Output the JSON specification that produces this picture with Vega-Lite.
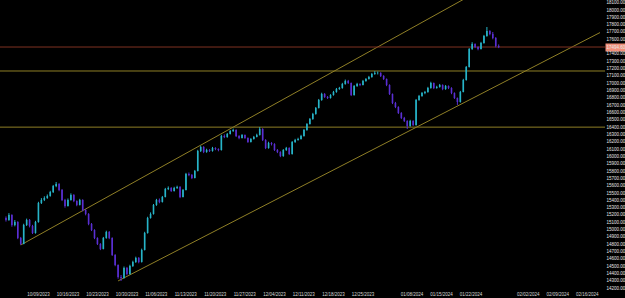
{
  "$schema": "https://vega.github.io/schema/vega-lite/v6.json",
  "width": 605,
  "height": 290,
  "autosize": {"type": "none"},
  "padding": {"left": 0, "top": 0, "right": 20, "bottom": 8},
  "background": "#000000",
  "config": {
    "view": {"stroke": null},
    "axis": {"labelFont": "Liberation Sans", "labelFontSize": 4.5, "grid": false, "domain": false, "labelOverlap": false, "tickCount": 200}
  },
  "datasets": {
    "candles": [
      {"day":1.5,"o":15160,"h":15180,"l":15110,"c":15132},
      {"day":2,"o":15132,"h":15225,"l":15120,"c":15200},
      {"day":2.5,"o":15200,"h":15210,"l":15040,"c":15063},
      {"day":3,"o":15063,"h":15130,"l":15045,"c":15104},
      {"day":3.5,"o":15104,"h":15115,"l":14870,"c":14886},
      {"day":4,"o":14886,"h":14900,"l":14790,"c":14804},
      {"day":4.5,"o":14804,"h":15080,"l":14800,"c":15063},
      {"day":5,"o":15063,"h":15150,"l":15050,"c":15132},
      {"day":5.5,"o":15132,"h":15145,"l":15030,"c":15050},
      {"day":6,"o":15050,"h":15065,"l":14940,"c":14954},
      {"day":6.5,"o":14954,"h":15120,"l":14945,"c":15104},
      {"day":7,"o":15104,"h":15380,"l":15095,"c":15364},
      {"day":7.5,"o":15364,"h":15430,"l":15350,"c":15405},
      {"day":8,"o":15405,"h":15455,"l":15390,"c":15432},
      {"day":8.5,"o":15432,"h":15480,"l":15420,"c":15460},
      {"day":9,"o":15460,"h":15530,"l":15450,"c":15514},
      {"day":9.5,"o":15514,"h":15610,"l":15500,"c":15596},
      {"day":10,"o":15596,"h":15650,"l":15580,"c":15624},
      {"day":10.5,"o":15624,"h":15635,"l":15525,"c":15542},
      {"day":11,"o":15542,"h":15555,"l":15390,"c":15405},
      {"day":11.5,"o":15405,"h":15420,"l":15300,"c":15323},
      {"day":12,"o":15323,"h":15425,"l":15315,"c":15405},
      {"day":12.5,"o":15405,"h":15495,"l":15395,"c":15473},
      {"day":13,"o":15473,"h":15485,"l":15375,"c":15391},
      {"day":13.5,"o":15391,"h":15400,"l":15320,"c":15337},
      {"day":14,"o":15337,"h":15420,"l":15330,"c":15405},
      {"day":14.5,"o":15405,"h":15415,"l":15250,"c":15268},
      {"day":15,"o":15268,"h":15280,"l":15195,"c":15214},
      {"day":15.5,"o":15214,"h":15225,"l":15060,"c":15077},
      {"day":16,"o":15077,"h":15090,"l":14980,"c":14995},
      {"day":16.5,"o":14995,"h":15005,"l":14870,"c":14886},
      {"day":17,"o":14886,"h":14895,"l":14790,"c":14804},
      {"day":17.5,"o":14804,"h":14815,"l":14720,"c":14736},
      {"day":18,"o":14736,"h":14900,"l":14730,"c":14886},
      {"day":18.5,"o":14886,"h":14985,"l":14875,"c":14968},
      {"day":19,"o":14968,"h":14980,"l":14870,"c":14886},
      {"day":19.5,"o":14886,"h":14895,"l":14640,"c":14654},
      {"day":20,"o":14654,"h":14665,"l":14500,"c":14517},
      {"day":20.5,"o":14517,"h":14525,"l":14330,"c":14353},
      {"day":21,"o":14353,"h":14380,"l":14299,"c":14340},
      {"day":21.5,"o":14340,"h":14495,"l":14330,"c":14476},
      {"day":22,"o":14476,"h":14490,"l":14375,"c":14394},
      {"day":22.5,"o":14394,"h":14520,"l":14385,"c":14503},
      {"day":23,"o":14503,"h":14575,"l":14490,"c":14558},
      {"day":23.5,"o":14558,"h":14630,"l":14545,"c":14613},
      {"day":24,"o":14613,"h":14625,"l":14540,"c":14558},
      {"day":24.5,"o":14558,"h":14740,"l":14550,"c":14722},
      {"day":25,"o":14722,"h":14970,"l":14715,"c":14954},
      {"day":25.5,"o":14954,"h":15175,"l":14945,"c":15159},
      {"day":26,"o":15159,"h":15235,"l":15150,"c":15214},
      {"day":26.5,"o":15214,"h":15350,"l":15205,"c":15337},
      {"day":27,"o":15337,"h":15420,"l":15325,"c":15405},
      {"day":27.5,"o":15405,"h":15425,"l":15360,"c":15378},
      {"day":28,"o":15378,"h":15460,"l":15370,"c":15446},
      {"day":28.5,"o":15446,"h":15570,"l":15440,"c":15555},
      {"day":29,"o":15555,"h":15590,"l":15540,"c":15569},
      {"day":29.5,"o":15569,"h":15580,"l":15515,"c":15528},
      {"day":30,"o":15528,"h":15585,"l":15520,"c":15569},
      {"day":30.5,"o":15569,"h":15600,"l":15555,"c":15583},
      {"day":31,"o":15583,"h":15595,"l":15430,"c":15446},
      {"day":31.5,"o":15446,"h":15555,"l":15440,"c":15542},
      {"day":32,"o":15542,"h":15775,"l":15535,"c":15760},
      {"day":32.5,"o":15760,"h":15780,"l":15730,"c":15747},
      {"day":33,"o":15747,"h":15760,"l":15690,"c":15706},
      {"day":33.5,"o":15706,"h":15815,"l":15700,"c":15801},
      {"day":34,"o":15801,"h":16090,"l":15795,"c":16074},
      {"day":34.5,"o":16074,"h":16145,"l":16060,"c":16129},
      {"day":35,"o":16129,"h":16140,"l":16045,"c":16061},
      {"day":35.5,"o":16061,"h":16105,"l":16050,"c":16088},
      {"day":36,"o":16088,"h":16100,"l":16060,"c":16074},
      {"day":36.5,"o":16074,"h":16130,"l":16065,"c":16115},
      {"day":37,"o":16115,"h":16125,"l":16085,"c":16102},
      {"day":37.5,"o":16102,"h":16110,"l":16070,"c":16088},
      {"day":38,"o":16088,"h":16295,"l":16080,"c":16279},
      {"day":38.5,"o":16279,"h":16300,"l":16250,"c":16266},
      {"day":39,"o":16266,"h":16320,"l":16255,"c":16307},
      {"day":39.5,"o":16307,"h":16360,"l":16300,"c":16348},
      {"day":40,"o":16348,"h":16380,"l":16335,"c":16361},
      {"day":40.5,"o":16361,"h":16370,"l":16265,"c":16279},
      {"day":41,"o":16279,"h":16290,"l":16235,"c":16252},
      {"day":41.5,"o":16252,"h":16305,"l":16245,"c":16293},
      {"day":42,"o":16293,"h":16300,"l":16240,"c":16252},
      {"day":42.5,"o":16252,"h":16260,"l":16185,"c":16197},
      {"day":43,"o":16197,"h":16250,"l":16190,"c":16238},
      {"day":43.5,"o":16238,"h":16280,"l":16230,"c":16266},
      {"day":44,"o":16266,"h":16310,"l":16260,"c":16293},
      {"day":44.5,"o":16293,"h":16400,"l":16285,"c":16375},
      {"day":45,"o":16375,"h":16385,"l":16210,"c":16225},
      {"day":45.5,"o":16225,"h":16235,"l":16100,"c":16115},
      {"day":46,"o":16115,"h":16200,"l":16105,"c":16184},
      {"day":46.5,"o":16184,"h":16195,"l":16150,"c":16170},
      {"day":47,"o":16170,"h":16180,"l":16075,"c":16088},
      {"day":47.5,"o":16088,"h":16100,"l":16045,"c":16061},
      {"day":48,"o":16061,"h":16070,"l":15990,"c":16006},
      {"day":48.5,"o":16006,"h":16100,"l":15995,"c":16088},
      {"day":49,"o":16088,"h":16130,"l":16075,"c":16115},
      {"day":49.5,"o":16115,"h":16125,"l":16020,"c":16033},
      {"day":50,"o":16033,"h":16210,"l":16025,"c":16197},
      {"day":50.5,"o":16197,"h":16240,"l":16185,"c":16225},
      {"day":51,"o":16225,"h":16255,"l":16215,"c":16238},
      {"day":51.5,"o":16238,"h":16295,"l":16230,"c":16279},
      {"day":52,"o":16279,"h":16375,"l":16270,"c":16361},
      {"day":52.5,"o":16361,"h":16455,"l":16350,"c":16443},
      {"day":53,"o":16443,"h":16525,"l":16435,"c":16511},
      {"day":53.5,"o":16511,"h":16595,"l":16500,"c":16580},
      {"day":54,"o":16580,"h":16675,"l":16570,"c":16662},
      {"day":54.5,"o":16662,"h":16785,"l":16655,"c":16771},
      {"day":55,"o":16771,"h":16870,"l":16760,"c":16853},
      {"day":55.5,"o":16853,"h":16865,"l":16800,"c":16812},
      {"day":56,"o":16812,"h":16825,"l":16785,"c":16798},
      {"day":56.5,"o":16798,"h":16850,"l":16790,"c":16839},
      {"day":57,"o":16839,"h":16895,"l":16830,"c":16880},
      {"day":57.5,"o":16880,"h":16935,"l":16870,"c":16921},
      {"day":58,"o":16921,"h":16950,"l":16910,"c":16935},
      {"day":58.5,"o":16935,"h":17005,"l":16925,"c":16990},
      {"day":59,"o":16990,"h":17050,"l":16980,"c":17031},
      {"day":59.5,"o":17031,"h":17045,"l":16990,"c":17003},
      {"day":60,"o":17003,"h":17010,"l":16825,"c":16839},
      {"day":60.5,"o":16839,"h":16975,"l":16830,"c":16962},
      {"day":61,"o":16962,"h":17005,"l":16950,"c":16990},
      {"day":61.5,"o":16990,"h":17000,"l":16960,"c":16976},
      {"day":62,"o":16976,"h":17045,"l":16970,"c":17031},
      {"day":62.5,"o":17031,"h":17070,"l":17020,"c":17058},
      {"day":63,"o":17058,"h":17100,"l":17050,"c":17085},
      {"day":63.5,"o":17085,"h":17140,"l":17075,"c":17126},
      {"day":64,"o":17126,"h":17165,"l":17115,"c":17140},
      {"day":64.5,"o":17140,"h":17160,"l":17120,"c":17141},
      {"day":65,"o":17141,"h":17150,"l":17085,"c":17099},
      {"day":65.5,"o":17099,"h":17110,"l":17045,"c":17058},
      {"day":66,"o":17058,"h":17065,"l":16960,"c":16976},
      {"day":66.5,"o":16976,"h":16985,"l":16840,"c":16853},
      {"day":67,"o":16853,"h":16860,"l":16715,"c":16730},
      {"day":67.5,"o":16730,"h":16745,"l":16660,"c":16675},
      {"day":68,"o":16675,"h":16685,"l":16580,"c":16593},
      {"day":68.5,"o":16593,"h":16605,"l":16510,"c":16525},
      {"day":69,"o":16525,"h":16540,"l":16470,"c":16484},
      {"day":69.5,"o":16484,"h":16495,"l":16375,"c":16416},
      {"day":70,"o":16416,"h":16500,"l":16405,"c":16484},
      {"day":70.5,"o":16484,"h":16495,"l":16415,"c":16429},
      {"day":71,"o":16429,"h":16785,"l":16420,"c":16771},
      {"day":71.5,"o":16771,"h":16840,"l":16760,"c":16826},
      {"day":72,"o":16826,"h":16880,"l":16815,"c":16867},
      {"day":72.5,"o":16867,"h":16895,"l":16850,"c":16880},
      {"day":73,"o":16880,"h":16950,"l":16870,"c":16935},
      {"day":73.5,"o":16935,"h":17020,"l":16925,"c":17003},
      {"day":74,"o":17003,"h":17010,"l":16920,"c":16935},
      {"day":74.5,"o":16935,"h":16965,"l":16925,"c":16949},
      {"day":75,"o":16949,"h":16990,"l":16940,"c":16976},
      {"day":75.5,"o":16976,"h":16985,"l":16905,"c":16921},
      {"day":76,"o":16921,"h":16975,"l":16910,"c":16962},
      {"day":76.5,"o":16962,"h":16970,"l":16920,"c":16935},
      {"day":77,"o":16935,"h":16945,"l":16850,"c":16867},
      {"day":77.5,"o":16867,"h":16875,"l":16785,"c":16798},
      {"day":78,"o":16798,"h":16805,"l":16703,"c":16744},
      {"day":78.5,"o":16744,"h":16895,"l":16735,"c":16880},
      {"day":79,"o":16880,"h":17060,"l":16875,"c":17044},
      {"day":79.5,"o":17044,"h":17235,"l":17035,"c":17222},
      {"day":80,"o":17222,"h":17480,"l":17215,"c":17468},
      {"day":80.5,"o":17468,"h":17560,"l":17455,"c":17536},
      {"day":81,"o":17536,"h":17545,"l":17480,"c":17495},
      {"day":81.5,"o":17495,"h":17505,"l":17450,"c":17468},
      {"day":82,"o":17468,"h":17565,"l":17460,"c":17550},
      {"day":82.5,"o":17550,"h":17660,"l":17540,"c":17645},
      {"day":83,"o":17645,"h":17768,"l":17635,"c":17713},
      {"day":83.5,"o":17713,"h":17725,"l":17655,"c":17672},
      {"day":84,"o":17672,"h":17700,"l":17600,"c":17618},
      {"day":84.5,"o":17618,"h":17630,"l":17490,"c":17509},
      {"day":85,"o":17509,"h":17530,"l":17480,"c":17494}
    ],
    "channel": [
      {"line":"upper","day":4,"price":14790},
      {"line":"upper","day":80,"price":18189},
      {"line":"lower","day":20.5,"price":14299},
      {"line":"lower","day":102.1667,"price":17692}
    ],
    "levels": [
      {"price":17167},
      {"price":16400}
    ],
    "bid": [
      {"price":17494.6}
    ]
  },
  "layer": [
    {
      "data": {"name": "levels"},
      "mark": {"type": "rule", "color": "#8f7f26", "strokeWidth": 1},
      "encoding": {
        "y": {"field": "price", "type": "quantitative", "scale": {"domain": [14175, 18137], "nice": false, "zero": false}}
      }
    },
    {
      "data": {"name": "channel"},
      "mark": {"type": "line", "color": "#8f7f26", "strokeWidth": 1, "clip": true},
      "encoding": {
        "x": {"field": "day", "type": "quantitative"},
        "y": {"field": "price", "type": "quantitative"},
        "detail": {"field": "line"}
      }
    },
    {
      "data": {"name": "bid"},
      "mark": {"type": "rule", "color": "#7e3222", "strokeWidth": 1},
      "encoding": {
        "y": {"field": "price", "type": "quantitative"}
      }
    },
    {
      "data": {"name": "candles"},
      "mark": {"type": "rule", "strokeWidth": 1},
      "encoding": {
        "x": {
          "field": "day", "type": "quantitative", "title": null,
          "scale": {"domain": [1.3333, 102.1667], "nice": false, "zero": false},
          "axis": {
            "orient": "bottom", "tickCount": 200,
            "values": [5,10,15,20,25,30,35,40,45,50,55,60,68.33,73.33,78.33,88,93,98],
            "labelExpr": "['10/09/2023','10/16/2023','10/23/2023','10/30/2023','11/06/2023','11/13/2023','11/20/2023','11/27/2023','12/04/2023','12/11/2023','12/18/2023','12/25/2023','01/08/2024','01/15/2024','01/22/2024','02/02/2024','02/09/2024','02/16/2024'][indexof([5,10,15,20,25,30,35,40,45,50,55,60,68.33,73.33,78.33,88,93,98], datum.value)]",
            "labelAlign": "left", "labelPadding": 1, "ticks": false, "labelColor": "#d8d8d8", "labelFlush": false, "labelOverlap": false
          }
        },
        "y": {
          "field": "l", "type": "quantitative", "title": null,
          "axis": {
            "orient": "right", "tickCount": 200,
            "values": [14200,14300,14400,14500,14600,14700,14800,14900,15000,15100,15200,15300,15400,15500,15600,15700,15800,15900,16000,16100,16200,16300,16400,16500,16600,16700,16800,16900,17000,17100,17200,17300,17400,17494.6,17600,17700,17800,17900,18000,18100],
            "format": ".2f", "ticks": true, "labelColor": "#e6e6e6", "labelOverlap": false,
            "tickSize": {"condition": {"test": "datum.value == 17494.6", "value": 20}, "value": 0},
            "tickWidth": {"condition": {"test": "datum.value == 17494.6", "value": 8}, "value": 1},
            "tickColor": {"condition": {"test": "datum.value == 17494.6", "value": "#f0907a"}, "value": "#000000"},
            "labelPadding": {"condition": {"test": "datum.value == 17494.6", "value": -19}, "value": 1}
          }
        },
        "y2": {"field": "h"},
        "color": {"condition": {"test": "datum.c >= datum.o", "value": "#27b4c8"}, "value": "#5a2fd2"}
      }
    },
    {
      "data": {"name": "candles"},
      "mark": {"type": "bar", "size": 1.6},
      "encoding": {
        "x": {"field": "day", "type": "quantitative"},
        "y": {"field": "o", "type": "quantitative"},
        "y2": {"field": "c"},
        "color": {"condition": {"test": "datum.c >= datum.o", "value": "#27b4c8"}, "value": "#5a2fd2"}
      }
    }
  ]
}
